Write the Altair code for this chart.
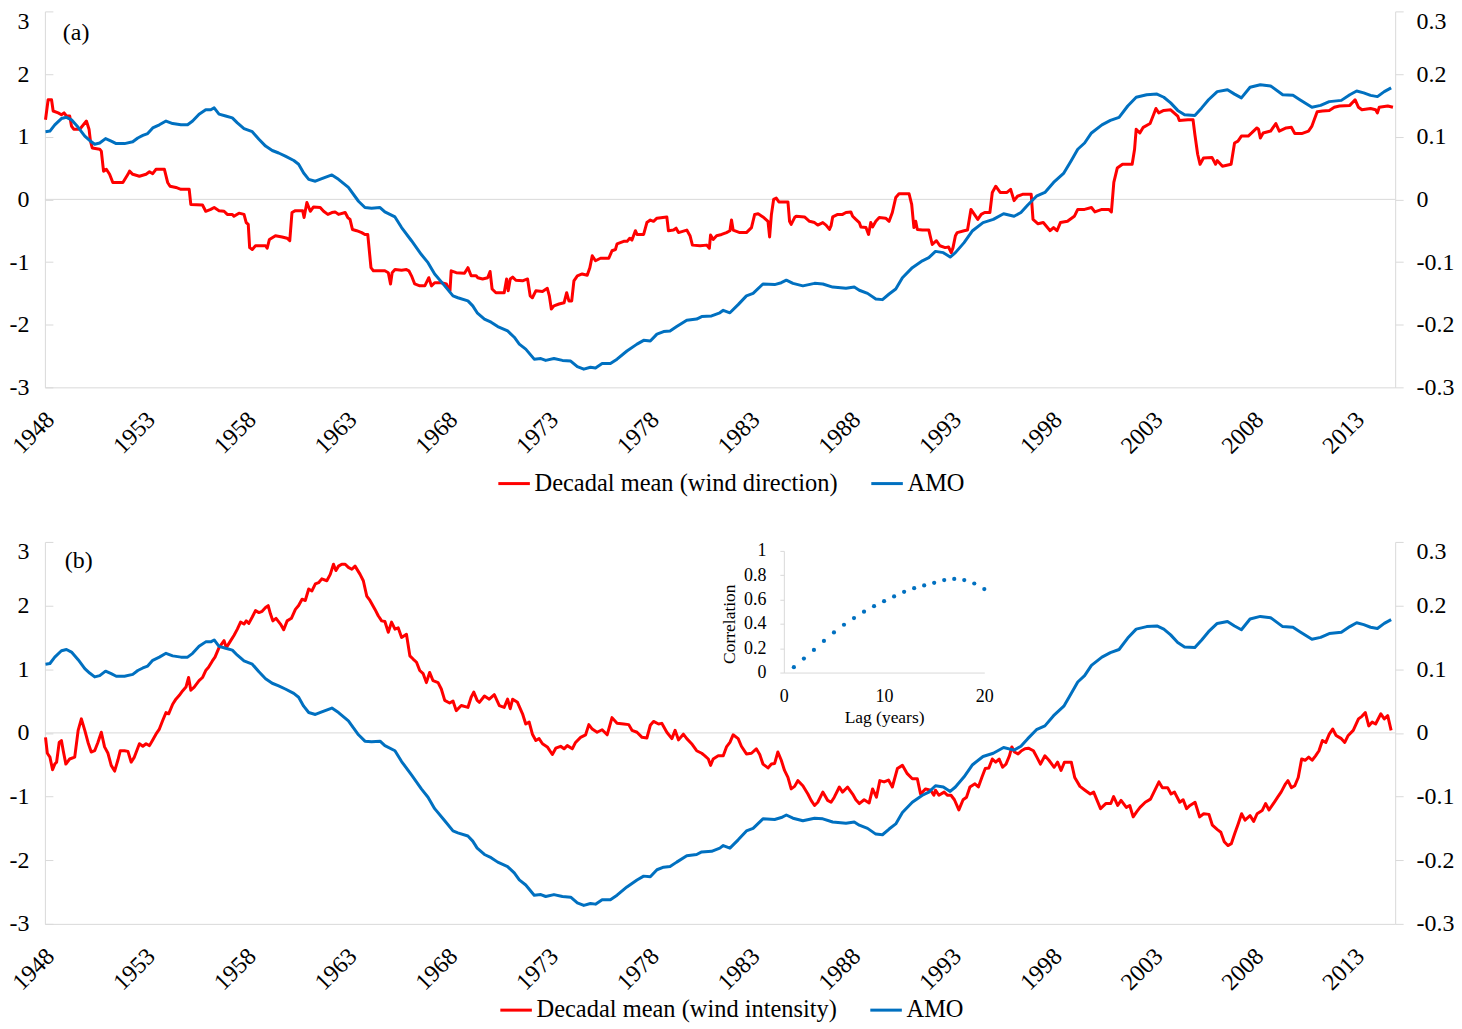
import altair as alt
import pandas as pd

FONT = "Liberation Serif"
RED = "#ff0000"
BLUE = "#0070c0"
GRAY = "#d9d9d9"

NAME_A = "Decadal mean (wind direction)"
NAME_B = "Decadal mean (wind intensity)"
NAME_AMO = "AMO"

# (year, value), red series
dir_pts = [
    (1948.03, 1.27), (1948.16, 1.59), (1948.33, 1.59), (1948.41, 1.41), (1948.66, 1.38), (1948.82, 1.35), (1948.95, 1.38),
    (1949.07, 1.33), (1949.23, 1.33), (1949.32, 1.17), (1949.43, 1.12), (1949.73, 1.12),
    (1950.06, 1.25), (1950.19, 1.12), (1950.26, 0.93), (1950.35, 0.82), (1950.72, 0.80), (1950.80, 0.77), (1950.91, 0.45),
    (1951.05, 0.48), (1951.21, 0.40), (1951.37, 0.27), (1951.87, 0.27),
    (1952.12, 0.40), (1952.20, 0.45), (1952.36, 0.40), (1952.69, 0.37),
    (1953.02, 0.40), (1953.19, 0.44), (1953.35, 0.41), (1953.51, 0.48), (1953.93, 0.48),
    (1954.09, 0.27), (1954.21, 0.21), (1954.50, 0.19), (1954.75, 0.16),
    (1955.16, 0.16), (1955.24, -0.08), (1955.82, -0.09), (1955.98, -0.19),
    (1956.23, -0.16), (1956.40, -0.13), (1956.64, -0.18), (1956.89, -0.19),
    (1957.05, -0.24), (1957.30, -0.24), (1957.38, -0.27), (1957.63, -0.22), (1957.88, -0.24), (1957.99, -0.37),
    (1958.09, -0.40), (1958.16, -0.77), (1958.29, -0.80), (1958.45, -0.74), (1958.95, -0.74),
    (1959.03, -0.78), (1959.14, -0.64), (1959.44, -0.58), (1959.77, -0.60),
    (1960.02, -0.62), (1960.15, -0.66), (1960.26, -0.21), (1960.43, -0.18), (1960.79, -0.18), (1960.86, -0.29),
    (1961.00, -0.05), (1961.17, -0.19), (1961.33, -0.12), (1961.66, -0.13), (1961.83, -0.19),
    (1962.04, -0.24), (1962.24, -0.21), (1962.40, -0.20), (1962.57, -0.24), (1962.90, -0.21),
    (1963.03, -0.29), (1963.14, -0.32), (1963.26, -0.48), (1963.47, -0.50), (1963.72, -0.53), (1963.88, -0.56),
    (1964.02, -0.56), (1964.18, -1.09), (1964.30, -1.14), (1964.87, -1.14),
    (1965.04, -1.17), (1965.15, -1.35), (1965.23, -1.17), (1965.37, -1.12), (1965.70, -1.13), (1965.94, -1.12),
    (1966.06, -1.14), (1966.19, -1.22), (1966.35, -1.35), (1966.60, -1.38), (1966.85, -1.38),
    (1967.05, -1.25), (1967.18, -1.38), (1967.34, -1.33), (1967.67, -1.33), (1967.92, -1.35),
    (1968.03, -1.43), (1968.10, -1.46), (1968.16, -1.14), (1968.41, -1.17), (1968.82, -1.18), (1968.99, -1.09),
    (1969.15, -1.22), (1969.40, -1.22), (1969.48, -1.25), (1969.72, -1.27), (1969.97, -1.25),
    (1970.09, -1.15), (1970.19, -1.43), (1970.38, -1.49), (1970.79, -1.49), (1970.91, -1.27), (1970.99, -1.46),
    (1971.09, -1.27), (1971.21, -1.24), (1971.37, -1.29), (1971.70, -1.30), (1971.95, -1.27),
    (1972.08, -1.54), (1972.19, -1.57), (1972.36, -1.46), (1972.69, -1.47), (1972.93, -1.42),
    (1973.03, -1.54), (1973.13, -1.75), (1973.26, -1.70), (1973.51, -1.67), (1973.76, -1.65), (1973.89, -1.49),
    (1974.00, -1.62), (1974.14, -1.62), (1974.25, -1.30), (1974.42, -1.22), (1974.66, -1.19), (1974.91, -1.21),
    (1975.04, -1.09), (1975.16, -0.90), (1975.32, -0.98), (1975.57, -0.94), (1975.98, -0.94),
    (1976.14, -0.82), (1976.31, -0.80), (1976.39, -0.71), (1976.72, -0.67), (1976.89, -0.67),
    (1977.02, -0.62), (1977.13, -0.65), (1977.30, -0.50), (1977.38, -0.56), (1977.71, -0.56), (1977.87, -0.37),
    (1978.04, -0.33), (1978.20, -0.35), (1978.37, -0.30), (1978.86, -0.28), (1978.94, -0.50),
    (1979.19, -0.49), (1979.32, -0.46), (1979.44, -0.53), (1979.85, -0.49),
    (1980.01, -0.58), (1980.13, -0.73), (1980.51, -0.74), (1980.84, -0.73), (1980.97, -0.78),
    (1981.03, -0.57), (1981.16, -0.64), (1981.33, -0.58), (1981.58, -0.56), (1981.82, -0.53), (1981.99, -0.50),
    (1982.07, -0.33), (1982.15, -0.49), (1982.48, -0.53), (1982.81, -0.53),
    (1983.06, -0.45), (1983.22, -0.24), (1983.39, -0.23), (1983.63, -0.28), (1983.88, -0.35), (1983.96, -0.60),
    (1984.05, -0.24), (1984.16, 0.00), (1984.29, 0.02), (1984.42, -0.04), (1984.87, -0.04), (1984.95, -0.35),
    (1985.03, -0.40), (1985.20, -0.29), (1985.28, -0.27), (1985.69, -0.28), (1985.94, -0.35),
    (1986.19, -0.37), (1986.35, -0.41), (1986.60, -0.37), (1986.76, -0.41), (1986.93, -0.48),
    (1987.01, -0.42), (1987.09, -0.28), (1987.34, -0.24), (1987.58, -0.24), (1987.75, -0.21), (1987.99, -0.20),
    (1988.08, -0.27), (1988.24, -0.32), (1988.41, -0.37), (1988.49, -0.44), (1988.74, -0.45), (1988.87, -0.56), (1988.98, -0.37),
    (1989.07, -0.44), (1989.23, -0.35), (1989.40, -0.29), (1989.72, -0.30), (1989.89, -0.35),
    (1990.05, -0.21), (1990.22, 0.03), (1990.38, 0.09), (1990.88, 0.09),
    (1991.01, -0.08), (1991.12, -0.45), (1991.21, -0.35), (1991.29, -0.48), (1991.54, -0.49), (1991.86, -0.49),
    (1992.03, -0.72), (1992.24, -0.66), (1992.41, -0.74), (1992.67, -0.77), (1992.84, -0.76), (1992.97, -0.85),
    (1993.06, -0.77), (1993.18, -0.58), (1993.27, -0.53), (1993.61, -0.50), (1993.78, -0.49), (1993.95, -0.16),
    (1994.12, -0.24), (1994.29, -0.32), (1994.46, -0.24), (1994.63, -0.21), (1994.89, -0.21),
    (1995.01, 0.11), (1995.18, 0.21), (1995.40, 0.11), (1995.74, 0.11), (1995.92, 0.16),
    (1996.09, -0.02), (1996.26, 0.05), (1996.51, 0.08), (1996.94, 0.08),
    (1997.03, -0.32), (1997.28, -0.39), (1997.54, -0.37), (1997.88, -0.50),
    (1998.05, -0.45), (1998.22, -0.50), (1998.39, -0.37), (1998.74, -0.35),
    (1999.08, -0.27), (1999.25, -0.16), (1999.59, -0.16), (1999.93, -0.13),
    (2000.10, -0.20), (2000.45, -0.16), (2000.79, -0.16), (2000.92, -0.20),
    (2001.04, 0.27), (2001.21, 0.50), (2001.47, 0.56), (2001.95, 0.56),
    (2002.07, 0.80), (2002.15, 1.12), (2002.33, 1.06), (2002.50, 1.15), (2002.84, 1.21),
    (2003.01, 1.35), (2003.13, 1.45), (2003.27, 1.38), (2003.52, 1.42), (2003.86, 1.43),
    (2004.21, 1.33), (2004.29, 1.26), (2004.72, 1.27), (2004.97, 1.27),
    (2005.06, 1.04), (2005.20, 0.72), (2005.32, 0.56), (2005.49, 0.66), (2005.91, 0.67),
    (2006.09, 0.56), (2006.17, 0.62), (2006.43, 0.53), (2006.86, 0.56),
    (2007.03, 0.90), (2007.20, 0.93), (2007.37, 1.01), (2007.71, 1.01), (2007.88, 1.06),
    (2008.14, 1.14), (2008.22, 1.12), (2008.31, 0.98), (2008.45, 1.06), (2008.82, 1.09),
    (2009.08, 1.21), (2009.25, 1.09), (2009.59, 1.14), (2009.85, 1.15),
    (2010.02, 1.05), (2010.36, 1.05), (2010.70, 1.09), (2010.87, 1.17),
    (2011.13, 1.40), (2011.39, 1.41), (2011.73, 1.42), (2011.98, 1.47),
    (2012.24, 1.49), (2012.75, 1.50), (2013.01, 1.59), (2013.18, 1.47), (2013.35, 1.43), (2013.78, 1.45),
    (2014.03, 1.43), (2014.12, 1.38), (2014.21, 1.47), (2014.63, 1.49), (2014.89, 1.47),
]

# (year, AMO)
amo_pts = [
    (1948.03, 0.108), (1948.25, 0.109), (1948.49, 0.119), (1948.82, 0.129), (1949.07, 0.131), (1949.32, 0.127),
    (1949.65, 0.115), (1949.98, 0.101), (1950.22, 0.094), (1950.47, 0.088), (1950.72, 0.090), (1951.01, 0.097),
    (1951.29, 0.093), (1951.54, 0.089), (1951.95, 0.089), (1952.36, 0.092), (1952.61, 0.098), (1952.86, 0.102),
    (1953.10, 0.105), (1953.35, 0.114), (1953.68, 0.119), (1954.01, 0.125), (1954.34, 0.121), (1954.75, 0.119),
    (1955.08, 0.119), (1955.33, 0.125), (1955.65, 0.136), (1955.98, 0.143), (1956.23, 0.143), (1956.40, 0.146),
    (1956.64, 0.136), (1956.97, 0.133), (1957.30, 0.130), (1957.55, 0.122), (1957.88, 0.113), (1958.29, 0.108),
    (1958.62, 0.096), (1958.95, 0.085), (1959.28, 0.078), (1959.60, 0.074), (1959.93, 0.069), (1960.35, 0.062),
    (1960.59, 0.056), (1960.84, 0.042), (1961.09, 0.032), (1961.42, 0.029), (1961.74, 0.033), (1962.24, 0.039),
    (1962.57, 0.032), (1963.06, 0.019), (1963.56, -0.003), (1963.88, -0.013), (1964.21, -0.014), (1964.63, -0.013),
    (1964.87, -0.020), (1965.37, -0.028), (1965.70, -0.045), (1966.19, -0.066), (1966.68, -0.088), (1967.01, -0.101),
    (1967.34, -0.119), (1967.84, -0.138), (1968.25, -0.154), (1968.49, -0.157), (1968.99, -0.162), (1969.23, -0.170),
    (1969.45, -0.181), (1969.81, -0.191), (1970.14, -0.196), (1970.47, -0.203), (1970.96, -0.210), (1971.29, -0.220),
    (1971.54, -0.231), (1971.86, -0.239), (1972.28, -0.255), (1972.61, -0.254), (1972.85, -0.257), (1973.26, -0.254),
    (1973.68, -0.257), (1974.09, -0.258), (1974.42, -0.267), (1974.74, -0.271), (1975.07, -0.268), (1975.32, -0.269),
    (1975.65, -0.262), (1976.06, -0.262), (1976.39, -0.255), (1976.88, -0.242), (1977.38, -0.231), (1977.71, -0.225),
    (1978.04, -0.226), (1978.37, -0.215), (1978.70, -0.211), (1979.02, -0.210), (1979.35, -0.203), (1979.85, -0.193),
    (1980.34, -0.191), (1980.59, -0.187), (1981.08, -0.186), (1981.49, -0.181), (1981.66, -0.177), (1981.99, -0.181),
    (1982.40, -0.168), (1982.81, -0.154), (1983.14, -0.150), (1983.63, -0.135), (1984.21, -0.136), (1984.54, -0.133),
    (1984.79, -0.129), (1985.12, -0.134), (1985.61, -0.138), (1986.19, -0.134), (1986.60, -0.135), (1987.09, -0.140),
    (1987.75, -0.142), (1988.16, -0.140), (1988.41, -0.145), (1988.82, -0.150), (1989.23, -0.159), (1989.56, -0.160),
    (1989.89, -0.151), (1990.22, -0.143), (1990.55, -0.125), (1991.04, -0.109), (1991.54, -0.098), (1991.86, -0.093),
    (1992.19, -0.083), (1992.58, -0.085), (1992.92, -0.092), (1993.18, -0.085), (1993.61, -0.069), (1994.03, -0.050),
    (1994.55, -0.037), (1995.06, -0.032), (1995.57, -0.023), (1996.09, -0.027), (1996.43, -0.021), (1996.77, -0.009),
    (1997.20, 0.005), (1997.62, 0.011), (1998.05, 0.027), (1998.56, 0.042), (1998.91, 0.061), (1999.25, 0.080),
    (1999.59, 0.090), (1999.93, 0.106), (2000.45, 0.119), (2000.87, 0.126), (2001.30, 0.131), (2001.73, 0.149),
    (2002.15, 0.163), (2002.67, 0.167), (2003.18, 0.168), (2003.52, 0.163), (2003.86, 0.154), (2004.21, 0.142),
    (2004.55, 0.135), (2005.06, 0.134), (2005.40, 0.146), (2005.74, 0.159), (2006.17, 0.172), (2006.68, 0.175),
    (2007.03, 0.168), (2007.37, 0.162), (2007.80, 0.179), (2008.31, 0.183), (2008.82, 0.181), (2009.42, 0.167),
    (2009.93, 0.166), (2010.27, 0.159), (2010.87, 0.147), (2011.30, 0.150), (2011.73, 0.156), (2012.33, 0.158),
    (2012.75, 0.167), (2013.09, 0.173), (2013.44, 0.170), (2013.78, 0.166), (2014.12, 0.164), (2014.46, 0.172),
    (2014.80, 0.178),
]

# (year, value), red series
int_pts = [
    (1948.03, -0.07), (1948.12, -0.32), (1948.25, -0.38), (1948.38, -0.58), (1948.49, -0.49), (1948.58, -0.46),
    (1948.71, -0.15), (1948.82, -0.12), (1948.91, -0.28), (1949.04, -0.49), (1949.23, -0.41), (1949.48, -0.38),
    (1949.65, 0.04), (1949.81, 0.22), (1949.98, 0.04), (1950.14, -0.15), (1950.30, -0.30), (1950.47, -0.28),
    (1950.63, -0.15), (1950.80, 0.01), (1950.96, -0.22), (1951.13, -0.32), (1951.29, -0.51), (1951.46, -0.60),
    (1951.62, -0.43), (1951.74, -0.28), (1951.95, -0.28), (1952.12, -0.29), (1952.28, -0.46), (1952.44, -0.38),
    (1952.69, -0.17), (1952.86, -0.21), (1953.02, -0.17), (1953.19, -0.20), (1953.35, -0.11), (1953.51, -0.02),
    (1953.68, 0.06), (1953.84, 0.19), (1954.01, 0.32), (1954.14, 0.30), (1954.34, 0.45), (1954.50, 0.53),
    (1954.67, 0.59), (1954.83, 0.66), (1955.00, 0.72), (1955.13, 0.87), (1955.24, 0.67), (1955.41, 0.72),
    (1955.65, 0.82), (1955.82, 0.87), (1955.98, 0.98), (1956.12, 1.03), (1956.31, 1.13), (1956.44, 1.19),
    (1956.64, 1.34), (1956.89, 1.45), (1957.00, 1.34), (1957.22, 1.45), (1957.38, 1.53), (1957.55, 1.63),
    (1957.71, 1.74), (1957.88, 1.71), (1957.99, 1.76), (1958.12, 1.72), (1958.29, 1.82), (1958.45, 1.92),
    (1958.62, 1.89), (1958.78, 1.91), (1958.95, 1.97), (1959.08, 2.00), (1959.19, 1.87), (1959.31, 1.76),
    (1959.47, 1.80), (1959.69, 1.71), (1959.85, 1.62), (1960.02, 1.76), (1960.23, 1.80), (1960.43, 1.94),
    (1960.59, 2.00), (1960.76, 2.10), (1960.92, 2.08), (1961.09, 2.26), (1961.25, 2.23), (1961.42, 2.34),
    (1961.58, 2.36), (1961.74, 2.42), (1961.99, 2.39), (1962.16, 2.49), (1962.32, 2.65), (1962.44, 2.55),
    (1962.57, 2.62), (1962.73, 2.65), (1962.90, 2.65), (1963.06, 2.60), (1963.23, 2.57), (1963.39, 2.62),
    (1963.64, 2.49), (1963.80, 2.39), (1963.97, 2.15), (1964.13, 2.08), (1964.38, 1.94), (1964.54, 1.84),
    (1964.71, 1.76), (1964.87, 1.75), (1965.04, 1.58), (1965.20, 1.74), (1965.37, 1.63), (1965.53, 1.65),
    (1965.70, 1.50), (1965.94, 1.55), (1966.11, 1.21), (1966.27, 1.16), (1966.44, 1.11), (1966.60, 0.98),
    (1966.77, 0.93), (1966.93, 0.79), (1967.09, 0.95), (1967.26, 0.82), (1967.51, 0.79), (1967.67, 0.69),
    (1967.84, 0.51), (1968.08, 0.47), (1968.25, 0.50), (1968.41, 0.35), (1968.66, 0.43), (1968.99, 0.40),
    (1969.15, 0.56), (1969.28, 0.64), (1969.45, 0.51), (1969.56, 0.48), (1969.81, 0.58), (1970.05, 0.53),
    (1970.30, 0.60), (1970.55, 0.43), (1970.79, 0.40), (1970.96, 0.53), (1971.09, 0.38), (1971.21, 0.53),
    (1971.45, 0.48), (1971.70, 0.30), (1971.86, 0.14), (1972.03, 0.17), (1972.19, -0.02), (1972.36, -0.12),
    (1972.52, -0.09), (1972.69, -0.17), (1972.93, -0.22), (1973.18, -0.34), (1973.35, -0.24), (1973.59, -0.21),
    (1973.76, -0.25), (1973.92, -0.20), (1974.17, -0.25), (1974.33, -0.15), (1974.58, -0.07), (1974.83, -0.03),
    (1974.99, 0.13), (1975.16, 0.06), (1975.40, 0.01), (1975.65, 0.05), (1975.90, -0.03), (1976.14, 0.24),
    (1976.39, 0.15), (1976.72, 0.14), (1976.97, 0.13), (1977.13, 0.04), (1977.38, 0.01), (1977.63, -0.07),
    (1977.87, -0.08), (1978.04, 0.12), (1978.20, 0.18), (1978.45, 0.14), (1978.61, 0.15), (1978.86, 0.01),
    (1979.11, -0.09), (1979.27, 0.04), (1979.44, -0.11), (1979.68, -0.02), (1979.85, -0.09), (1980.09, -0.17),
    (1980.34, -0.28), (1980.59, -0.32), (1980.75, -0.36), (1980.92, -0.41), (1981.03, -0.51), (1981.16, -0.41),
    (1981.41, -0.36), (1981.66, -0.36), (1981.82, -0.22), (1981.99, -0.15), (1982.15, -0.03), (1982.40, -0.09),
    (1982.56, -0.21), (1982.81, -0.33), (1983.06, -0.32), (1983.30, -0.25), (1983.47, -0.34), (1983.63, -0.49),
    (1983.88, -0.55), (1984.05, -0.49), (1984.21, -0.48), (1984.37, -0.30), (1984.54, -0.43), (1984.70, -0.59),
    (1984.87, -0.70), (1985.03, -0.88), (1985.20, -0.84), (1985.36, -0.75), (1985.61, -0.83), (1985.86, -0.96),
    (1986.02, -1.06), (1986.19, -1.14), (1986.35, -1.09), (1986.60, -0.93), (1986.84, -1.06), (1987.01, -1.09),
    (1987.17, -1.01), (1987.42, -0.85), (1987.58, -0.93), (1987.83, -0.85), (1988.08, -0.96), (1988.24, -1.05),
    (1988.41, -1.11), (1988.65, -1.05), (1988.90, -1.10), (1989.07, -0.88), (1989.26, -1.01), (1989.43, -0.75),
    (1989.64, -0.77), (1989.86, -0.74), (1990.05, -0.85), (1990.30, -0.56), (1990.55, -0.51), (1990.79, -0.64),
    (1991.04, -0.72), (1991.29, -0.72), (1991.45, -0.96), (1991.70, -0.88), (1991.95, -0.90), (1992.11, -0.98),
    (1992.19, -0.90), (1992.36, -0.98), (1992.62, -0.93), (1992.79, -0.98), (1992.96, -0.98), (1993.13, -1.05),
    (1993.35, -1.21), (1993.56, -1.05), (1993.73, -1.01), (1993.90, -0.85), (1994.15, -0.80), (1994.32, -0.85),
    (1994.49, -0.70), (1994.66, -0.56), (1994.84, -0.55), (1995.01, -0.41), (1995.18, -0.46), (1995.35, -0.41),
    (1995.52, -0.54), (1995.69, -0.49), (1995.86, -0.36), (1995.98, -0.22), (1996.11, -0.30), (1996.29, -0.33),
    (1996.46, -0.28), (1996.63, -0.25), (1996.80, -0.24), (1997.05, -0.28), (1997.22, -0.38), (1997.40, -0.49),
    (1997.62, -0.36), (1997.82, -0.43), (1998.08, -0.54), (1998.25, -0.46), (1998.42, -0.59), (1998.59, -0.46),
    (1998.93, -0.46), (1999.10, -0.70), (1999.36, -0.84), (1999.61, -0.90), (1999.87, -0.96), (2000.04, -0.93),
    (2000.21, -1.06), (2000.38, -1.19), (2000.64, -1.11), (2000.89, -1.11), (2001.03, -1.00), (2001.23, -1.14),
    (2001.40, -1.06), (2001.66, -1.17), (2001.83, -1.14), (2002.00, -1.32), (2002.17, -1.24), (2002.34, -1.17),
    (2002.60, -1.09), (2002.86, -1.04), (2003.03, -0.93), (2003.28, -0.77), (2003.45, -0.86), (2003.71, -0.86),
    (2003.88, -0.96), (2004.05, -0.93), (2004.31, -1.09), (2004.48, -1.05), (2004.65, -1.19), (2004.82, -1.14),
    (2005.07, -1.09), (2005.30, -1.32), (2005.50, -1.27), (2005.76, -1.28), (2005.93, -1.45), (2006.18, -1.52),
    (2006.35, -1.56), (2006.52, -1.71), (2006.70, -1.77), (2006.87, -1.74), (2007.04, -1.58), (2007.21, -1.43),
    (2007.38, -1.27), (2007.55, -1.37), (2007.80, -1.30), (2007.98, -1.39), (2008.15, -1.27), (2008.40, -1.22),
    (2008.57, -1.11), (2008.74, -1.21), (2009.00, -1.09), (2009.17, -1.01), (2009.34, -0.93), (2009.56, -0.80),
    (2009.68, -0.75), (2009.85, -0.86), (2010.02, -0.83), (2010.19, -0.70), (2010.36, -0.41), (2010.53, -0.43),
    (2010.71, -0.38), (2010.88, -0.43), (2011.05, -0.36), (2011.22, -0.28), (2011.39, -0.12), (2011.56, -0.15),
    (2011.73, -0.02), (2011.90, 0.06), (2012.07, -0.04), (2012.33, -0.09), (2012.50, -0.15), (2012.67, -0.04),
    (2012.92, 0.04), (2013.18, 0.22), (2013.35, 0.26), (2013.52, 0.32), (2013.69, 0.11), (2013.86, 0.17),
    (2014.03, 0.14), (2014.29, 0.30), (2014.46, 0.22), (2014.63, 0.27), (2014.80, 0.04),
]

# inset: lag correlation
lags = list(range(1, 21))
corr = [0.044, 0.115, 0.186, 0.26, 0.33, 0.393, 0.448, 0.50, 0.546, 0.587,
        0.626, 0.664, 0.694, 0.716, 0.738, 0.76, 0.77, 0.76, 0.732, 0.686]

year_ticks = list(range(1948, 2014, 5))
left_ticks = [-3, -2, -1, 0, 1, 2, 3]
right_ticks = [-0.3, -0.2, -0.1, 0, 0.1, 0.2, 0.3]
inset_xticks = [0, 10, 20]
inset_yticks = [0, 0.2, 0.4, 0.6, 0.8, 1]
zero_line = [0]

W = 1354
HA = 377
HB = 383
MINUS = "datum.value < 0 ? '-' + format(-datum.value, '~g') : format(datum.value, '~g')"

x_scale = alt.Scale(domain=[1948, 2015], nice=False, zero=False)
x_axis = alt.Axis(values=year_ticks, format="d", labelAngle=-45, labelAlign="right", labelBaseline="top",
                  labelOffset=-3, labelPadding=20, ticks=False, domainColor=GRAY, labelFlush=False,
                  labelOverlap=False, labelFontSize=24, grid=False, title=None)
left_axis = alt.Axis(values=left_ticks, labelExpr=MINUS, labelFontSize=24, domainColor=GRAY,
                     tickColor=GRAY, tickSize={"expr": "-8"}, labelPadding=24, grid=False, title=None,
                     labelOffset={"condition": {"test": "datum.value == 3", "value": 10}, "value": 0})
right_axis = alt.Axis(orient="right", values=right_ticks, labelExpr=MINUS, labelFontSize=24,
                      domainColor=GRAY, tickColor=GRAY, tickSize=8, labelPadding=13, grid=False, title=None,
                      labelOffset={"condition": {"test": "datum.value > 0.25", "value": 10}, "value": 0})


def panel(pts, name, H, tag, tag_year, tag_val, lx, ly, with_inset=False):
    df = pd.DataFrame(pts, columns=["year", "value"])
    df["series"] = name
    amo = pd.DataFrame(amo_pts, columns=["year", "value"])
    amo["series"] = NAME_AMO
    cscale = alt.Scale(domain=[name, NAME_AMO], range=[RED, BLUE])
    legend = alt.Legend(orient="none", legendX=lx, legendY=ly, direction="horizontal", title=None,
                        symbolType="stroke", symbolStrokeWidth=3, symbolSize=1000, labelFontSize=24.5,
                        labelColor="black", labelOffset=3, columnPadding=26, padding=0, labelLimit=0)
    yl = alt.Scale(domain=[-3, 3], nice=False, zero=False)
    rule = alt.Chart(pd.DataFrame({"v": zero_line})).mark_rule(color=GRAY, strokeWidth=1).encode(
        y=alt.Y("v:Q", scale=yl, axis=None))
    red = alt.Chart(df).mark_line(strokeWidth=3, strokeJoin="round").encode(
        x=alt.X("year:Q", scale=x_scale, axis=x_axis),
        y=alt.Y("value:Q", scale=yl, axis=left_axis),
        color=alt.Color("series:N", scale=cscale, legend=legend),
    )
    txt = alt.Chart(pd.DataFrame({"year": [tag_year], "value": [tag_val], "t": [tag]})).mark_text(
        align="left", baseline="middle", fontSize=24, color="black", font=FONT).encode(
        x=alt.X("year:Q", scale=x_scale, axis=None),
        y=alt.Y("value:Q", scale=yl, axis=None),
        text="t:N",
    )
    blue = alt.Chart(amo).mark_line(strokeWidth=3, strokeJoin="round").encode(
        x=alt.X("year:Q", scale=x_scale, axis=None),
        y=alt.Y("value:Q", scale=alt.Scale(domain=[-0.3, 0.3], nice=False, zero=False), axis=right_axis),
        color=alt.Color("series:N", scale=cscale, legend=legend),
    )
    layers = [rule, red, txt, blue]
    if with_inset:
        idf = pd.DataFrame({"lag": lags, "corr": corr})
        inset = alt.Chart(idf).mark_circle(size=18, color=BLUE, opacity=1).encode(
            x=alt.X("lag:Q", scale=alt.Scale(domain=[0, 20], range=[741, 942], nice=False, zero=False),
                    axis=alt.Axis(orient="bottom", offset=-(H - 131), values=inset_xticks, ticks=False,
                                  domainColor=GRAY, labelFontSize=18, labelPadding=15, labelFlush=False,
                                  title="Lag (years)", titleFontSize=17.5, titleFontWeight="normal",
                                  titlePadding=3, grid=False)),
            y=alt.Y("corr:Q", scale=alt.Scale(domain=[0, 1], range=[131, 9], nice=False, zero=False),
                    axis=alt.Axis(orient="left", offset=-741, values=inset_yticks, format="~g", tickSize=4,
                                  tickColor=GRAY, domainColor=GRAY, labelFontSize=18, labelPadding=14,
                                  title="Correlation", titleFontSize=17.5, titleFontWeight="normal",
                                  titlePadding=5, titleY=82, grid=False)),
        )
        layers.append(inset)
    ch = alt.layer(*layers).resolve_scale(y="independent", x="independent")
    return ch.properties(width=W, height=H)


pa = panel(dir_pts, NAME_A, HA, "(a)", 1948.89, 2.66, 453, 456)
pb = panel(int_pts, NAME_B, HB, "(b)", 1948.99, 2.70, 455, 452, with_inset=True)

chart = alt.vconcat(pa, pb, spacing=155, bounds="flush").resolve_scale(color="independent").properties(
    padding={"left": 0, "top": 0, "right": 0, "bottom": 0}
).configure(font=FONT).configure_axis(
    labelFont=FONT, titleFont=FONT, labelColor="black", titleColor="black"
).configure_legend(labelFont=FONT).configure_view(stroke=None)

chart.save("out.html", embed_options={"renderer": "svg", "actions": False})
